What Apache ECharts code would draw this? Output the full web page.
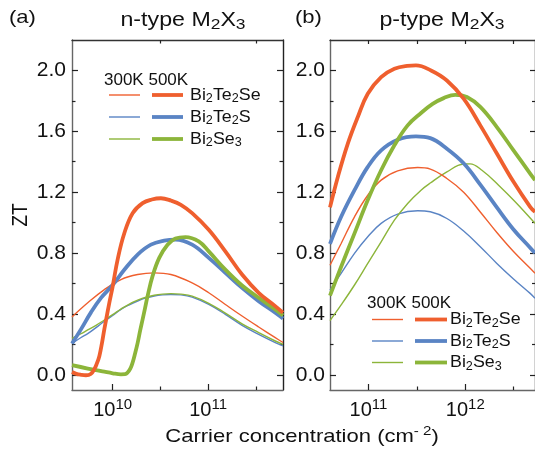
<!DOCTYPE html>
<html><head><meta charset="utf-8">
<script src="https://cdn.jsdelivr.net/npm/echarts@6/dist/echarts.min.js"></script>
<style>html,body{margin:0;padding:0;background:#fff}#c{width:535px;height:451px}</style>
</head><body><div id="c"></div>
<script>
// x values are log10(carrier concentration / cm^-2)
// ---- Panel (a): n-type M2X3 ----
const nTe2Se300_x = [9.574, 9.739, 9.913, 10.087, 10.262, 10.436, 10.61, 10.833, 11.007, 11.181, 11.356, 11.53, 11.704, 11.785];
const nTe2Se300_y = [0.38, 0.473, 0.56, 0.626, 0.659, 0.67, 0.659, 0.604, 0.539, 0.462, 0.386, 0.314, 0.244, 0.212];
const nTe2Se500_x = [9.574, 9.62, 9.669, 9.72, 9.77, 9.808, 9.835, 9.861, 9.887, 9.913, 9.94, 9.965, 10.0, 10.052, 10.122, 10.209, 10.314, 10.41, 10.506, 10.61, 10.715, 10.833, 11.007, 11.181, 11.356, 11.53, 11.704, 11.785];
const nTe2Se500_y = [0.018, 0.006, 0.0, -0.003, 0.005, 0.037, 0.075, 0.124, 0.205, 0.30, 0.39, 0.473, 0.58, 0.757, 0.93, 1.062, 1.128, 1.152, 1.16, 1.145, 1.117, 1.062, 0.953, 0.811, 0.659, 0.539, 0.451, 0.408];
const nThin_x = [9.574, 9.669, 9.739, 9.826, 9.913, 10.0, 10.087, 10.175, 10.262, 10.349, 10.436, 10.523, 10.61, 10.715, 10.833, 11.007, 11.181, 11.356, 11.53, 11.704, 11.785];
const nTe2S300_y = [0.205, 0.245, 0.27, 0.31, 0.352, 0.39, 0.43, 0.46, 0.485, 0.505, 0.518, 0.525, 0.528, 0.525, 0.51, 0.462, 0.397, 0.325, 0.266, 0.212, 0.19];
const nSe3300_y = [0.24, 0.27, 0.295, 0.325, 0.36, 0.395, 0.432, 0.465, 0.49, 0.51, 0.523, 0.53, 0.533, 0.53, 0.517, 0.47, 0.405, 0.335, 0.277, 0.222, 0.2];
const nTe2S500_x = [9.574, 9.669, 9.773, 9.878, 10.0, 10.122, 10.262, 10.401, 10.54, 10.658, 10.833, 11.007, 11.181, 11.356, 11.53, 11.704, 11.785];
const nTe2S500_y = [0.205, 0.30, 0.41, 0.505, 0.59, 0.69, 0.79, 0.855, 0.881, 0.888, 0.855, 0.768, 0.67, 0.571, 0.484, 0.408, 0.37];
const nSe3500_x = [9.574, 9.739, 9.913, 10.0, 10.087, 10.13, 10.157, 10.185, 10.209, 10.235, 10.262, 10.288, 10.314, 10.34, 10.366, 10.418, 10.488, 10.575, 10.658, 10.763, 10.902, 11.007, 11.181, 11.356, 11.53, 11.704, 11.785];
const nSe3500_y = [0.063, 0.041, 0.02, 0.01, 0.003, 0.004, 0.015, 0.04, 0.08, 0.14, 0.21, 0.29, 0.364, 0.44, 0.517, 0.648, 0.768, 0.855, 0.895, 0.905, 0.877, 0.811, 0.691, 0.587, 0.506, 0.43, 0.39];

// ---- Panel (b): p-type M2X3 ----
const pA_x = [10.603, 10.718, 10.856, 10.993, 11.131, 11.302, 11.509, 11.639, 11.81, 11.983, 12.155, 12.326, 12.498, 12.67, 12.72];
const pTe2Se300_y = [0.72, 0.863, 1.038, 1.18, 1.279, 1.34, 1.362, 1.352, 1.29, 1.20, 1.07, 0.935, 0.81, 0.70, 0.667];
const pTe2S300_y = [0.557, 0.667, 0.798, 0.907, 0.995, 1.056, 1.078, 1.071, 1.027, 0.945, 0.842, 0.732, 0.63, 0.535, 0.503];
const pTe2Se500_x = [10.603, 10.684, 10.787, 10.89, 10.993, 11.131, 11.268, 11.40, 11.491, 11.646, 11.81, 11.983, 12.155, 12.326, 12.498, 12.67, 12.72];
const pTe2Se500_y = [1.10, 1.30, 1.519, 1.694, 1.847, 1.956, 2.011, 2.03, 2.033, 2.0, 1.934, 1.814, 1.639, 1.454, 1.268, 1.104, 1.07];
const pTe2S500_x = [10.603, 10.718, 10.856, 10.993, 11.131, 11.302, 11.491, 11.639, 11.81, 11.983, 12.155, 12.326, 12.498, 12.67, 12.72];
const pTe2S500_y = [0.86, 1.038, 1.213, 1.366, 1.475, 1.545, 1.567, 1.555, 1.486, 1.39, 1.25, 1.10, 0.955, 0.835, 0.80];
const pSe3300_x = [10.603, 10.718, 10.856, 10.993, 11.131, 11.268, 11.405, 11.543, 11.639, 11.81, 11.983, 12.05, 12.172, 12.344, 12.515, 12.72];
const pSe3300_y = [0.356, 0.459, 0.59, 0.732, 0.874, 1.016, 1.126, 1.213, 1.26, 1.333, 1.385, 1.386, 1.344, 1.246, 1.137, 0.995];
const pSe3500_x = [10.603, 10.718, 10.856, 10.993, 11.131, 11.268, 11.405, 11.543, 11.663, 11.777, 11.897, 12.017, 12.155, 12.326, 12.498, 12.67, 12.72];
const pSe3500_y = [0.52, 0.71, 0.929, 1.148, 1.344, 1.508, 1.639, 1.72, 1.78, 1.818, 1.84, 1.825, 1.76, 1.628, 1.475, 1.322, 1.279];

// ---- axes ----
const xRangeA = [9.574, 11.785];
const xRangeB = [10.603, 12.72];
const yRange = [-0.1, 2.2];
const xMajorA = [10, 11], xMinorA = [10.5, 11.5];
const xMajorB = [11, 12], xMinorB = [10.5, 11.5, 12.5];
const yMajor = [0, 0.4, 0.8, 1.2, 1.6, 2.0];
const yMinor = [0.2, 0.6, 1.0, 1.4, 1.8];

const FONT = '"Liberation Sans", Arial, Helvetica, sans-serif';
const ORANGE = '#EF5F2E', BLUE = '#5A84C4', GREEN = '#8CB53A';
const THIN = 1.4, THICK = 3.8;
const TXT = '#111';
const SX = 1.16; // horizontal text stretch seen in the reference

function xAxis(gi, range, pos, ticks, len, showLine, lineColor, labels) {
  return {
    type: 'value', gridIndex: gi, min: range[0], max: range[1], position: pos,
    splitLine: {show: false}, axisPointer: {show: false},
    axisLine: {show: showLine, onZero: false, lineStyle: {color: lineColor, width: 1.4}},
    axisTick: {show: true, inside: true, length: len, customValues: ticks, lineStyle: {color: '#222', width: 1.2}},
    axisLabel: labels ? {
      show: true, customValues: labels, margin: 7,
      formatter: v => '{b|10}{s|' + Math.round(v) + '}',
      rich: {
        b: {fontSize: 20, fontFamily: FONT, color: TXT, lineHeight: 27},
        s: {fontSize: 15, fontFamily: FONT, color: TXT, lineHeight: 15, verticalAlign: 'top'}
      }
    } : {show: false}
  };
}
function yAxis(gi, pos, ticks, len, showLine, lineColor, labels, margin) {
  return {
    type: 'value', gridIndex: gi, min: yRange[0], max: yRange[1], position: pos,
    splitLine: {show: false}, axisPointer: {show: false},
    axisLine: {show: showLine, onZero: false, lineStyle: {color: lineColor, width: 1.4}},
    axisTick: {show: true, inside: true, length: len, customValues: ticks, lineStyle: {color: '#222', width: 1.2}},
    axisLabel: labels ? {
      show: true, customValues: labels, margin: margin,
      formatter: v => v.toFixed(1), fontSize: 21, fontFamily: FONT, color: TXT
    } : {show: false}
  };
}
function ser(xs, ys, color, width, xi, yi, z) {
  return {
    type: 'line', xAxisIndex: xi, yAxisIndex: yi, data: xs.map((x, i) => [x, ys[i]]),
    showSymbol: false, symbol: 'none', smooth: 0.4, z: z, clip: true, silent: true,
    lineStyle: {color: color, width: width}
  };
}

const rt = {
  t: {fontSize: 20, fontFamily: FONT, fill: TXT, lineHeight: 24},
  s: {fontSize: 15, fontFamily: FONT, fill: TXT, lineHeight: 15, verticalAlign: 'bottom'}
};
const rl = {
  t: {fontSize: 17, fontFamily: FONT, fill: TXT, lineHeight: 20},
  s: {fontSize: 12, fontFamily: FONT, fill: TXT, lineHeight: 12, verticalAlign: 'bottom'}
};
const legendNames = ['{t|Bi}{s|2}{t|Te}{s|2}{t|Se}', '{t|Bi}{s|2}{t|Te}{s|2}{t|S}', '{t|Bi}{s|2}{t|Se}{s|3}'];
const legendColors = [ORANGE, BLUE, GREEN];

function legendGraphics(hx, hy, rowsY, thinX, thickX, labelX) {
  const g = [{type: 'text', x: hx, y: hy, style: {text: '300K 500K', font: '17px ' + FONT, fill: TXT, align: 'left', verticalAlign: 'middle'}}];
  rowsY.forEach((y, i) => {
    g.push({type: 'line', shape: {x1: thinX[0], y1: y, x2: thinX[1], y2: y}, style: {stroke: legendColors[i], lineWidth: THIN}});
    g.push({type: 'line', shape: {x1: thickX[0], y1: y, x2: thickX[1], y2: y}, style: {stroke: legendColors[i], lineWidth: THICK}});
    g.push({type: 'text', x: labelX, y: y, scaleX: 1.05, style: {text: legendNames[i], rich: rl, align: 'left', verticalAlign: 'middle'}});
  });
  return g;
}

const chart = echarts.init(document.getElementById('c'), null, {renderer: 'canvas'});
chart.setOption({
  animation: false,
  backgroundColor: '#fff',
  grid: [
    {left: 72, top: 40, width: 211, height: 350, containLabel: false, outerBoundsMode: 'none'},
    {left: 330, top: 40, width: 205, height: 350, containLabel: false, outerBoundsMode: 'none'}
  ],
  xAxis: [
    xAxis(0, xRangeA, 'bottom', xMajorA, 6, true, '#666', xMajorA),
    xAxis(0, xRangeA, 'bottom', xMinorA, 3.5, false, '#666', null),
    xAxis(0, xRangeA, 'top', xMinorA, 3.5, true, '#333', null),
    xAxis(1, xRangeB, 'bottom', xMajorB, 6, true, '#666', xMajorB),
    xAxis(1, xRangeB, 'bottom', xMinorB, 3.5, false, '#666', null),
    xAxis(1, xRangeB, 'top', xMajorB.concat(xMinorB), 4, true, '#333', null)
  ],
  yAxis: [
    yAxis(0, 'left', yMajor, 6, true, '#666', yMajor, 6),
    yAxis(0, 'left', yMinor, 3.5, false, '#666', null),
    yAxis(0, 'right', yMajor, 6, true, '#222', null),
    yAxis(0, 'right', yMinor, 3.5, false, '#222', null),
    yAxis(1, 'left', yMajor, 6, true, '#666', yMajor, 5),
    yAxis(1, 'left', yMinor, 3.5, false, '#666', null),
    yAxis(1, 'right', yMajor, 5, true, '#222', null),
    yAxis(1, 'right', yMinor, 3, false, '#222', null)
  ],
  series: [
    ser(nThin_x, nTe2S300_y, BLUE, THIN, 0, 0, 2),
    ser(nThin_x, nSe3300_y, GREEN, THIN, 0, 0, 2),
    ser(nTe2Se300_x, nTe2Se300_y, ORANGE, THIN, 0, 0, 2),
    ser(nTe2S500_x, nTe2S500_y, BLUE, THICK, 0, 0, 3),
    ser(nSe3500_x, nSe3500_y, GREEN, THICK, 0, 0, 3),
    ser(nTe2Se500_x, nTe2Se500_y, ORANGE, THICK, 0, 0, 3),
    ser(pA_x, pTe2S300_y, BLUE, THIN, 3, 4, 2),
    ser(pSe3300_x, pSe3300_y, GREEN, THIN, 3, 4, 2),
    ser(pA_x, pTe2Se300_y, ORANGE, THIN, 3, 4, 2),
    ser(pTe2S500_x, pTe2S500_y, BLUE, THICK, 3, 4, 3),
    ser(pSe3500_x, pSe3500_y, GREEN, THICK, 3, 4, 3),
    ser(pTe2Se500_x, pTe2Se500_y, ORANGE, THICK, 3, 4, 3)
  ],
  graphic: [
    {type: 'text', x: 9, y: 18, scaleX: SX, style: {text: '(a)', font: '19px ' + FONT, fill: TXT, align: 'left', verticalAlign: 'middle'}},
    {type: 'text', x: 183, y: 20, scaleX: SX, style: {text: '{t|n-type M}{s|2}{t|X}{s|3}', rich: rt, align: 'center', verticalAlign: 'middle'}},
    {type: 'text', x: 295, y: 18, scaleX: SX, style: {text: '(b)', font: '19px ' + FONT, fill: TXT, align: 'left', verticalAlign: 'middle'}},
    {type: 'text', x: 442, y: 20, scaleX: SX, style: {text: '{t|p-type M}{s|2}{t|X}{s|3}', rich: rt, align: 'center', verticalAlign: 'middle'}},
    {type: 'text', x: 21, y: 215, rotation: Math.PI / 2, scaleY: SX, style: {text: 'ZT', font: '19px ' + FONT, fill: TXT, align: 'center', verticalAlign: 'middle'}},
    {type: 'text', x: 302, y: 437, scaleX: SX, style: {
      text: '{t|Carrier concentration (cm}{p|- 2}{t|)}', align: 'center', verticalAlign: 'middle',
      rich: {t: {fontSize: 19, fontFamily: FONT, fill: TXT, lineHeight: 24}, p: {fontSize: 13, fontFamily: FONT, fill: TXT, lineHeight: 13, verticalAlign: 'top'}}
    }}
  ].concat(
    legendGraphics(104, 80.5, [95, 117, 139], [109, 140], [152, 183], 190),
    legendGraphics(367, 303.5, [319.5, 341, 362.5], [372, 403], [415, 447], 450)
  )
});
</script></body></html>
